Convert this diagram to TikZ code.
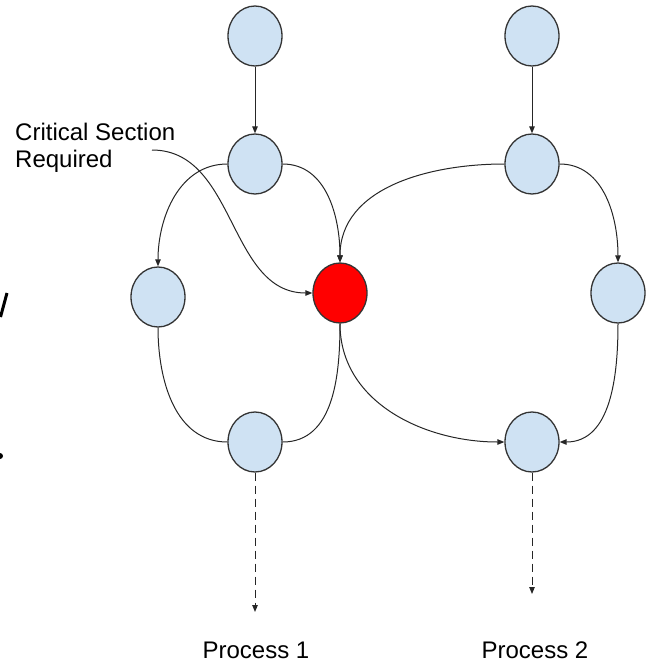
\documentclass[tikz,border=0pt]{standalone}
\usepackage{fontspec}
\setmainfont{Liberation Sans}
\usetikzlibrary{arrows.meta,shapes.geometric}
\definecolor{nodeblue}{HTML}{CFE2F3}
\definecolor{edgegray}{HTML}{333333}
\begin{document}
\begin{tikzpicture}[x=1pt,y=-1pt,
  blob/.style={ellipse,draw=edgegray,line width=1.3pt,fill=nodeblue,minimum width=54pt,minimum height=60pt,inner sep=0pt},
  crit/.style={blob,fill=red},
  link/.style={draw=black!85,line width=1pt},
  arr/.style={link,-{Triangle[length=7pt,width=5.5pt]}},
  darr/.style={arr,dash pattern=on 8pt off 5pt},
  lbl/.style={font=\fontsize{24}{27}\selectfont,inner sep=0pt}
]
\useasboundingbox (0,0) rectangle (648,662);
% process 1
\node[blob] (a1) at (255,36) {};
\node[blob] (a2) at (255,164) {};
\node[blob] (a3) at (158,297) {};
\node[blob] (a4) at (255,442) {};
% critical
\node[crit] (c) at (340,293) {};
% process 2
\node[blob] (b1) at (532,36) {};
\node[blob] (b2) at (532,164) {};
\node[blob] (b3) at (618,293) {};
\node[blob] (b4) at (532,442) {};
% labels
\node[lbl,align=left,anchor=north west] (t) at (15,123) {Critical Section\\Required};
\coordinate (ts) at (152,150);
\node[lbl,anchor=base] (p1) at (256,658) {Process 1};
\node[lbl,anchor=base] (p2) at (535,658) {Process 2};
\coordinate (e1) at (255,612);
\coordinate (e2) at (532,594);
% edges
\draw[arr] (a1) -- (a2);
\draw[arr] (b1) -- (b2);
\draw[arr] (a2.west) to[out=180,in=90] (a3.north);
\draw[arr] (a2.east) to[out=0,in=90] (c.north);
\draw[arr] (b2.west) to[out=180,in=90] (c.north);
\draw[arr] (b2.east) to[out=0,in=90] (b3.north);
\draw[link] (a3.south) to[out=-90,in=180] (a4.west);
\draw[link] (c.south) to[out=-90,in=0] (a4.east);
\draw[arr] (c.south) to[out=-90,in=180] (b4.west);
\draw[arr] (b3.south) to[out=-90,in=0] (b4.east);
\draw[arr] (ts) to[out=0,in=180] (c.west);
\draw[darr] (a4.south) -- (e1);
\draw[darr] (b4.south) -- (e2);
% edge fragments at the left border
\draw[line width=3pt] (7,293) -- (0.5,317);
\fill (0,456) circle (3pt);
\end{tikzpicture}
\end{document}
